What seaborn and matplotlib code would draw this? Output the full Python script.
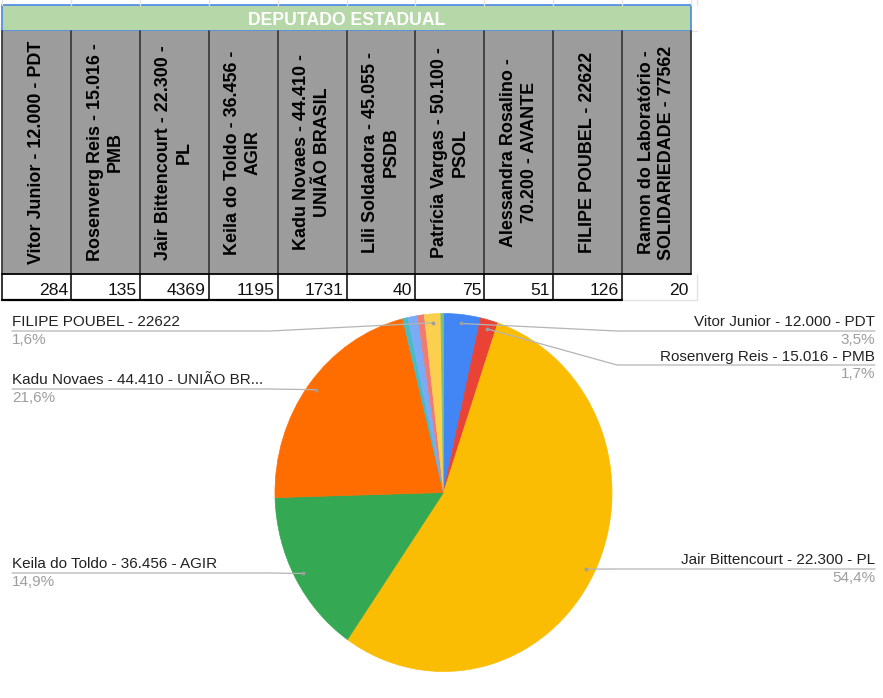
import numpy as np
import matplotlib
matplotlib.use("Agg")
import matplotlib.pyplot as plt
import seaborn as sns
from matplotlib.patches import Rectangle

# data
header_labels = [
    "Vitor Junior - 12.000 - PDT",
    "Rosenverg Reis - 15.016 -\nPMB",
    "Jair Bittencourt - 22.300 -\nPL",
    "Keila do Toldo - 36.456 -\nAGIR",
    "Kadu Novaes - 44.410 -\nUNIÃO BRASIL",
    "Lili Soldadora - 45.055 -\nPSDB",
    "Patrícia Vargas - 50.100 -\nPSOL",
    "Alessandra Rosalino -\n70.200 - AVANTE",
    "FILIPE POUBEL - 22622",
    "Ramon do Laboratório -\nSOLIDARIEDADE - 77562",
]
votes = [284, 135, 4369, 1195, 1731, 40, 75, 51, 126, 20]
pie_names = [h.replace("\n", " ") for h in header_labels]
title = "DEPUTADO ESTADUAL"
slice_colors = ["#4285f4", "#ea4335", "#fbbc04", "#34a853", "#ff6d01",
                "#46bdc6", "#7baaf7", "#f07b72", "#fcd04f", "#71c287"]

# which slices get an outside label: index -> (side, underline y in px)
label_slots = {0: ("right", 331), 1: ("right", 365), 2: ("right", 569),
               8: ("left", 331), 4: ("left", 389), 3: ("left", 573)}

sns.set_theme(style="white")
plt.rcParams["font.family"] = ["Liberation Sans", "DejaVu Sans"]
palette = sns.color_palette(slice_colors)

W, H = 883, 698
fig = plt.figure(figsize=(W / 100, H / 100), dpi=100)
fig.patch.set_facecolor("white")

ov = fig.add_axes([0, 0, 1, 1], zorder=2)
ov.set_xlim(0, W)
ov.set_ylim(H, 0)
ov.axis("off")

# ---- table ----
edges = np.linspace(2, 691, len(votes) + 1)
for x in list(edges) + [697]:
    ov.plot([x, x], [0, 5], color="#e2e3e3", lw=1)
ov.plot([691, 697], [31, 31], color="#e2e3e3", lw=1)
ov.plot([622, 697], [300, 300], color="#e2e3e3", lw=1)
ov.plot([697, 697], [274, 300], color="#e2e3e3", lw=1)

ov.add_patch(Rectangle((2, 5), 689, 26, facecolor="#b6d7a8",
                       edgecolor="#4a86e8", lw=1.2))
ov.text(347, 25, title, color="white", fontsize=12.7, fontweight="bold",
        ha="center", va="baseline")

ov.add_patch(Rectangle((2, 31), 689, 243, facecolor="#9c9c9c", edgecolor="none"))
for i, lab in enumerate(header_labels):
    cx = (edges[i] + edges[i + 1]) / 2
    ov.text(cx, 152.5, lab, rotation=90, ha="center", va="center",
            multialignment="center", fontsize=12.9, fontweight="bold",
            color="black", linespacing=1.28)
    ov.text(edges[i + 1] - 3, 295, str(votes[i]), ha="right", va="baseline",
            fontsize=12.6, color="#111111")
for x in edges:
    ov.plot([x, x], [31, 274], color="#3c3c3c", lw=1.3)
    if x < 690:
        ov.plot([x, x], [274, 300], color="black", lw=1.1)
ov.plot([2, 691], [274, 274], color="black", lw=1.3)
ov.plot([2, 622], [300, 300], color="black", lw=1.6)

# ---- pie ----
cx_pie, cy_pie, rx, ry = 443.5, 492.5, 168.5, 179
ax_pie = fig.add_axes([(cx_pie - rx) / W, (H - cy_pie - ry) / H,
                       2 * rx / W, 2 * ry / H], zorder=1)
wedges, _ = ax_pie.pie(votes, colors=palette, startangle=90, counterclock=False,
                       wedgeprops=dict(linewidth=0.5))
for w in wedges:
    w.set_edgecolor(w.get_facecolor())
ax_pie.set_xlim(-1, 1)
ax_pie.set_ylim(-1, 1)
ax_pie.set_aspect("auto")
ax_pie.axis("off")

total = sum(votes)
renderer = fig.canvas.get_renderer()


def fit_text(x, y, s, ha, max_w):
    t = ov.text(x, y, s, ha=ha, va="baseline", fontsize=11, color="#222222")
    full = s
    while t.get_window_extent(renderer).width > max_w and len(full) > 3:
        full = full[:-1]
        t.set_text(full.rstrip() + "...")
    return t


right_bend = cx_pie + rx + 5
left_bend = cx_pie - rx - 5
for i, (side, uy) in label_slots.items():
    w = wedges[i]
    th = np.deg2rad((w.theta1 + w.theta2) / 2)
    px, py = ax_pie.transData.transform((0.95 * np.cos(th), 0.95 * np.sin(th)))
    py = H - py
    pct = f"{votes[i] / total * 100:.1f}%".replace(".", ",")
    if side == "right":
        fit_text(875, uy - 4.5, pie_names[i], "right", 875 - right_bend - 3)
        ov.text(875, uy + 13, pct, ha="right", va="baseline", fontsize=11,
                color="#9e9e9e")
        ov.plot([px, right_bend, 875], [py, uy, uy], color="#b4b4b4", lw=0.9)
    else:
        fit_text(12, uy - 4.5, pie_names[i], "left", left_bend - 12 - 3)
        ov.text(12, uy + 13, pct, ha="left", va="baseline", fontsize=11,
                color="#9e9e9e")
        ov.plot([12, left_bend, px], [uy, uy, py], color="#b4b4b4", lw=0.9)
    ov.plot([px], [py], "o", color="#9e9e9e", ms=1.8)

fig.savefig("out.png", dpi=100)
plt.close(fig)
